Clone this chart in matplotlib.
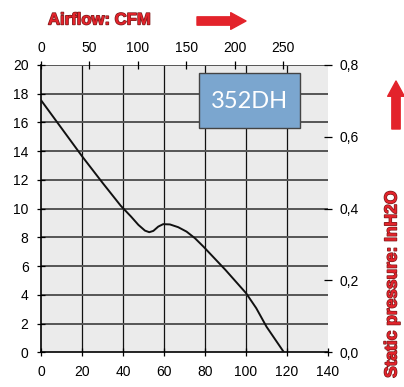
import matplotlib.pyplot as plt
import matplotlib.patheffects as pe
from matplotlib.patches import Rectangle

# fan curve (airflow l/s, static pressure mmH2O)
flow = [0, 10, 20, 30, 38.9, 43.9, 47.5, 50.7, 52.8, 54.8, 57.2, 59.6, 62.9,
        66.9, 71, 75.1, 79.2, 90, 100, 105, 110, 118.5]
pressure = [17.55, 15.6, 13.65, 11.8, 10.2, 9.45, 8.87, 8.47, 8.36, 8.45, 8.75,
            8.92, 8.9, 8.71, 8.4, 7.94, 7.36, 5.73, 4.12, 3.07, 1.78, 0]

x_ticks = [0, 20, 40, 60, 80, 100, 120, 140]
y_ticks = [0, 2, 4, 6, 8, 10, 12, 14, 16, 18, 20]
cfm_ticks = [0, 50, 100, 150, 200, 250]
inh2o_ticks = [0.0, 0.2, 0.4, 0.6, 0.8]
inh2o_labels = ['0,0', '0,2', '0,4', '0,6', '0,8']
model = '352DH'

red = '#e3232b'
plt.rcParams['font.family'] = ['Liberation Sans', 'DejaVu Sans']

fig = plt.figure(figsize=(4.04, 3.87), dpi=100)
ax = fig.add_axes([0.1015, 0.0897, 0.7104, 0.7424])
ax.set_facecolor('#ebebeb')

for xv in x_ticks[1:-1]:
    ax.axvline(xv, color='#111111', lw=0.9, zorder=1)
for yv in y_ticks[1:]:
    ax.axhline(yv, color='#555555', lw=1.4, zorder=1)

ax.plot(flow, pressure, color='#111111', lw=1.4, zorder=3)

ax.set_xlim(0, 140)
ax.set_ylim(0, 20)
ax.set_xticks(x_ticks)
ax.set_yticks(y_ticks)
ax.tick_params(direction='inout', length=6, width=0.9, labelsize=10, pad=6)
for s in ['top', 'right']:
    ax.spines[s].set_visible(False)
ax.spines['left'].set_linewidth(1.2)
ax.spines['bottom'].set_linewidth(1.2)

# top axis: CFM (1 l/s = 2.119 CFM)
top = ax.twiny()
top.set_xlim(0, 140 * 2.1189)
top.set_xticks(cfm_ticks)
top.tick_params(direction='inout', length=6, width=0.9, labelsize=10, pad=4)
for s in top.spines.values():
    s.set_visible(False)

# right axis: inH2O
right = ax.twinx()
right.set_ylim(0, 0.8)
right.set_yticks(inh2o_ticks)
right.set_yticklabels(inh2o_labels)
right.tick_params(direction='inout', length=6, width=0.9, labelsize=10, pad=5)
for s in right.spines.values():
    s.set_visible(False)

# model box
ax.add_patch(Rectangle((0.5505, 0.781), 0.3515, 0.191, transform=ax.transAxes,
                       fc='#7ba6cf', ec='#444444', lw=1, zorder=5))
ax.text(0.726, 0.874, model, transform=ax.transAxes, ha='center', va='center',
        fontsize=17, color='white', family=['Lato', 'DejaVu Sans'], zorder=6)

outline = [pe.withStroke(linewidth=1.0, foreground='#7a1a1a')]
fig.text(48 / 404, 1 - 20 / 387, 'Airflow: CFM', ha='left', va='center', fontsize=12,
         fontweight='bold', color=red, path_effects=outline)
fig.text(392 / 404, 1 - 284 / 387, 'Static pressure: InH2O', ha='center', va='center',
         rotation=90, fontsize=12.5, fontweight='bold', color=red, path_effects=outline)

arrow = dict(arrowstyle='simple,head_width=0.6,head_length=0.55,tail_width=0.3',
             color=red, mutation_scale=20, shrinkA=0, shrinkB=0)
fig.add_artist(plt.Annotation('', xy=(246 / 404, 1 - 21 / 387), xycoords='figure fraction',
                              xytext=(197 / 404, 1 - 21 / 387), textcoords='figure fraction',
                              arrowprops=arrow))
fig.add_artist(plt.Annotation('', xy=(396 / 404, 1 - 81 / 387), xycoords='figure fraction',
                              xytext=(396 / 404, 1 - 129 / 387), textcoords='figure fraction',
                              arrowprops=arrow))

fig.savefig('out.png', dpi=100)
